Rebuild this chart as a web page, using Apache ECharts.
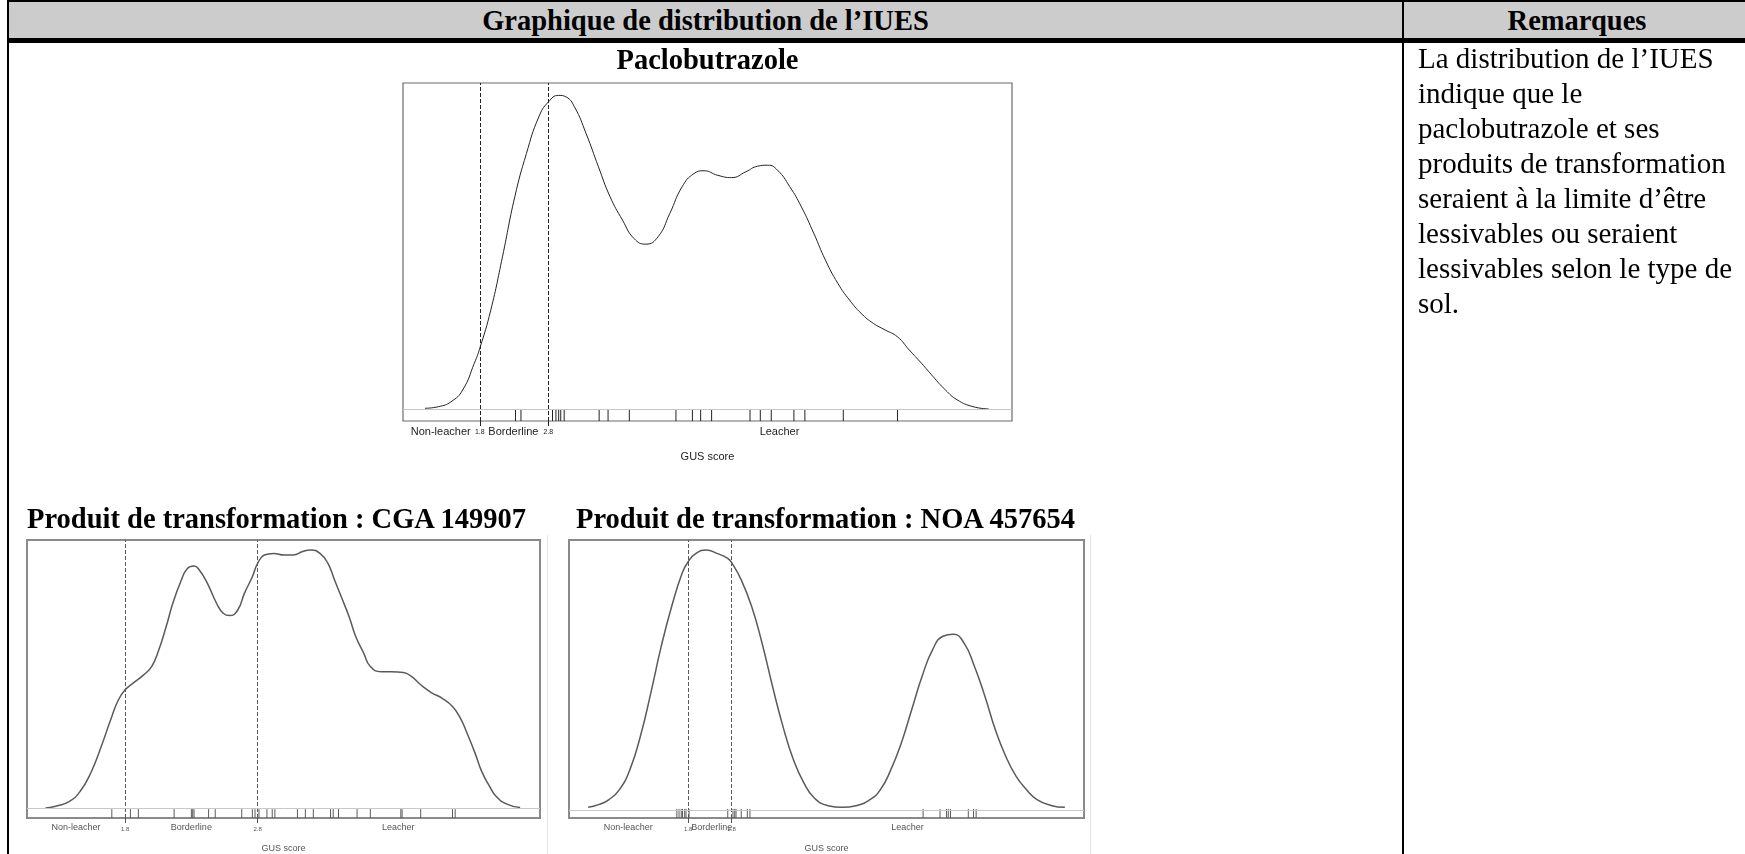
<!DOCTYPE html>
<html>
<head>
<meta charset="utf-8">
<title>Graphique de distribution de l'IUES</title>
<script src="https://cdn.jsdelivr.net/npm/echarts@6/dist/echarts.min.js"></script>
<style>
  body { margin: 0; width: 1745px; height: 854px; overflow: hidden; background: #fff; position: relative;
         font-family: "Liberation Serif", "Times New Roman", serif; color: #000; }
  .abs { position: absolute; }
  .blk { background: #000; }
  .bold { font-weight: bold; font-size: 28.5px; line-height: 35px; white-space: nowrap; }
  #chart { left: 0; top: 0; width: 1745px; height: 854px; }
  .rem { font-size: 29px; line-height: 35px; white-space: nowrap; }
</style>
</head>
<body>
<div id="chart" class="abs"></div>

<!-- table frame -->
<div class="abs" style="left:9px;top:2px;width:1736px;height:36px;background:#cccccc"></div>
<div class="abs blk" style="left:7px;top:0;width:1738px;height:2px"></div>
<div class="abs blk" style="left:7px;top:38px;width:1738px;height:5px"></div>
<div class="abs blk" style="left:7px;top:0;width:2px;height:854px"></div>
<div class="abs blk" style="left:1402px;top:0;width:2px;height:854px"></div>

<div class="abs bold" style="left:9px;width:1393px;top:3px;line-height:36px;text-align:center">Graphique de distribution de l’IUES</div>
<div class="abs bold" style="left:1404px;width:346px;top:3px;line-height:36px;text-align:center">Remarques</div>

<div class="abs bold" style="left:403px;width:609px;top:42px;text-align:center">Paclobutrazole</div>
<div class="abs bold" style="left:27px;top:501px">Produit de transformation : CGA 149907</div>
<div class="abs bold" style="left:576px;top:501px">Produit de transformation : NOA 457654</div>

<div class="abs" style="left:547px;top:535px;width:1px;height:319px;background:#e4e4e4"></div>
<div class="abs" style="left:1090px;top:535px;width:1px;height:319px;background:#e4e4e4"></div>

<div class="abs rem" style="left:1418px;top:41px">
La distribution de l’IUES<br>
indique que le<br>
paclobutrazole et ses<br>
produits de transformation<br>
seraient à la limite d’être<br>
lessivables ou seraient<br>
lessivables selon le type de<br>
sol.
</div>

<script>
// Paclobutrazole : courbe de densité de l'IUES (GUS)
var pacloX = [1.00,1.20,1.38,1.55,1.72,1.80,1.96,2.13,2.31,2.48,2.66,2.80,2.95,3.06,3.18,3.35,3.53,3.70,3.88,4.05,4.22,4.40,4.57,4.75,4.92,5.07,5.27,5.47,5.68,5.85,6.00,6.14,6.32,6.49,6.67,6.84,7.02,7.19,7.36,7.54,7.71,7.89,8.06,8.24,8.41,8.59,8.76,8.99,9.22];
var pacloY = [0.003,0.008,0.023,0.059,0.141,0.187,0.304,0.467,0.651,0.784,0.896,0.942,0.962,0.957,0.927,0.845,0.743,0.651,0.580,0.523,0.506,0.529,0.600,0.682,0.722,0.731,0.717,0.710,0.728,0.745,0.748,0.733,0.682,0.620,0.539,0.457,0.386,0.335,0.294,0.263,0.243,0.222,0.182,0.141,0.100,0.059,0.029,0.008,0.001];
var pacloRug = [2.32,2.40,2.86,2.91,2.95,2.98,3.03,3.54,3.67,3.98,4.66,4.90,5.02,5.18,5.74,5.89,6.05,6.38,6.54,7.10,7.89];

// CGA 149907
var cgaX = [1.20,1.29,1.38,1.46,1.54,1.62,1.70,1.75,1.80,1.86,1.94,2.00,2.05,2.11,2.16,2.22,2.27,2.32,2.36,2.42,2.49,2.54,2.59,2.65,2.70,2.76,2.80,2.85,2.92,3.00,3.07,3.14,3.20,3.27,3.33,3.38,3.43,3.49,3.54,3.60,3.65,3.73,3.81,3.90,3.96,4.03,4.11,4.19,4.27,4.33,4.38,4.44,4.49,4.55,4.60,4.68,4.78];
var cgaY = [0.000,0.009,0.025,0.062,0.130,0.230,0.342,0.404,0.441,0.466,0.497,0.528,0.584,0.677,0.764,0.845,0.894,0.903,0.888,0.839,0.764,0.727,0.718,0.739,0.801,0.863,0.913,0.944,0.950,0.944,0.944,0.957,0.963,0.950,0.913,0.851,0.789,0.714,0.640,0.578,0.528,0.509,0.509,0.506,0.491,0.460,0.431,0.410,0.379,0.335,0.279,0.205,0.137,0.081,0.043,0.015,0.002];
var cgaRug = [1.70,1.84,1.90,2.17,2.30,2.31,2.32,2.43,2.48,2.68,2.76,2.78,2.81,2.87,2.91,2.93,3.10,3.16,3.22,3.35,3.37,3.41,3.55,3.65,3.88,3.89,4.03,4.27,4.29];

// NOA 457654
var noaX = [-0.50,-0.26,-0.02,0.22,0.46,0.70,0.94,1.18,1.42,1.66,1.80,1.98,2.22,2.46,2.70,2.80,3.02,3.26,3.50,3.74,3.98,4.22,4.46,4.70,5.02,5.34,5.66,5.98,6.22,6.46,6.70,6.94,7.18,7.42,7.66,7.90,8.14,8.38,8.62,8.86,9.10,9.34,9.58,9.82,10.14,10.46];
var noaY = [0.000,0.010,0.029,0.066,0.141,0.265,0.427,0.602,0.751,0.876,0.919,0.950,0.963,0.950,0.932,0.915,0.851,0.751,0.613,0.452,0.302,0.178,0.091,0.035,0.006,0.000,0.006,0.029,0.066,0.141,0.241,0.366,0.491,0.590,0.640,0.647,0.615,0.528,0.416,0.291,0.191,0.116,0.066,0.029,0.007,0.000];
var noaRug = [1.54,1.59,1.64,1.67,1.72,1.75,1.82,2.71,2.83,2.87,2.90,3.02,3.16,3.22,7.20,7.59,7.74,7.78,7.83,8.24,8.36,8.42];

// seuils GUS et étiquettes de l'axe
var thresholds = [1.8, 2.8];
var zoneNames = ['Non-leacher', '1.8', 'Borderline', '2.8', 'Leacher'];
var pacloLabelX = [1.23, 1.8, 2.29, 2.8, 6.17];
var cgaLabelX = [1.43, 1.8, 2.30, 2.8, 3.86];
var noaLabelX = [0.42, 1.8, 2.34, 2.8, 6.84];

var myChart = echarts.init(document.getElementById('chart'));

function pairs(xs, ys) {
  return xs.map(function (x, i) { return [x, ys[i]]; });
}

function xAxisFor(idx, min, max, labelX, fs, color) {
  return {
    type: 'value', gridIndex: idx, min: min, max: max,
    axisLine: { show: false, onZero: false },
    splitLine: { show: false },
    axisTick: { show: true, customValues: thresholds, length: 5, lineStyle: { color: color, width: 1 } },
    axisLabel: {
      customValues: labelX, margin: 5, color: color, fontSize: fs,
      fontFamily: '"Liberation Sans", Arial, sans-serif',
      formatter: function (v) {
        var t = zoneNames[labelX.indexOf(v)];
        return thresholds.indexOf(v) >= 0 && t.length < 4 ? '{s|' + t + '}' : t;
      },
      rich: { s: { fontSize: Math.round(fs * 0.62), color: color, padding: [3, 0, 0, 0],
                   fontFamily: '"Liberation Sans", Arial, sans-serif' } }
    },
    name: 'GUS score', nameLocation: 'middle', nameGap: idx === 0 ? 30 : 26,
    nameTextStyle: { fontSize: fs, color: color, fontFamily: '"Liberation Sans", Arial, sans-serif' }
  };
}

function densitySeries(idx, xs, ys, rugTop, color, w) {
  return {
    type: 'line', xAxisIndex: idx, yAxisIndex: idx,
    data: pairs(xs, ys), smooth: 0.5, showSymbol: false, silent: true,
    lineStyle: { color: color, width: w },
    markLine: {
      silent: true, symbol: ['none', 'none'], label: { show: false },
      lineStyle: { color: color, width: 1, type: [4, 2] },
      data: [
        { xAxis: thresholds[0] }, { xAxis: thresholds[1] },
        { yAxis: rugTop, lineStyle: { type: 'solid', color: '#c8c8c8', width: 1 } }
      ]
    }
  };
}

function rugSeries(idx, vals, bottom, top, color) {
  return {
    type: 'custom', xAxisIndex: idx, yAxisIndex: idx, silent: true,
    data: vals.map(function (v) { return [v, 0]; }),
    renderItem: function (params, api) {
      var p0 = api.coord([api.value(0), bottom]);
      var p1 = api.coord([api.value(0), top]);
      return { type: 'line', shape: { x1: p0[0], y1: p0[1], x2: p1[0], y2: p1[1] },
               style: { stroke: color, lineWidth: 1 } };
    }
  };
}

var option = {
  animation: false,
  grid: [
    { left: 403, top: 83, width: 609, height: 338, show: true, borderColor: '#6b6b6b', borderWidth: 1.2, containLabel: false },
    { left: 27, top: 540, width: 513, height: 278, show: true, borderColor: '#8a8a8a', borderWidth: 2, containLabel: false },
    { left: 569, top: 540, width: 515, height: 278, show: true, borderColor: '#8a8a8a', borderWidth: 2, containLabel: false }
  ],
  xAxis: [
    xAxisFor(0, 0.68, 9.56, pacloLabelX, 11, '#222'),
    xAxisFor(1, 1.06, 4.93, cgaLabelX, 9, '#555'),
    xAxisFor(2, -0.94, 10.9, noaLabelX, 9, '#555')
  ],
  yAxis: [
    { type: 'value', gridIndex: 0, min: -0.036, max: 1.0, show: false },
    { type: 'value', gridIndex: 1, min: -0.037, max: 1.0, show: false },
    { type: 'value', gridIndex: 2, min: -0.04, max: 1.0, show: false }
  ],
  series: [
    densitySeries(0, pacloX, pacloY, -0.002, '#222', 1),
    rugSeries(0, pacloRug, -0.036, -0.002, '#222'),
    densitySeries(1, cgaX, cgaY, -0.004, '#5a5a5a', 1.5),
    rugSeries(1, cgaRug, -0.037, -0.004, '#5a5a5a'),
    densitySeries(2, noaX, noaY, -0.006, '#5a5a5a', 1.5),
    rugSeries(2, noaRug, -0.04, -0.006, '#5a5a5a')
  ]
};
myChart.setOption(option);
</script>
</body>
</html>
